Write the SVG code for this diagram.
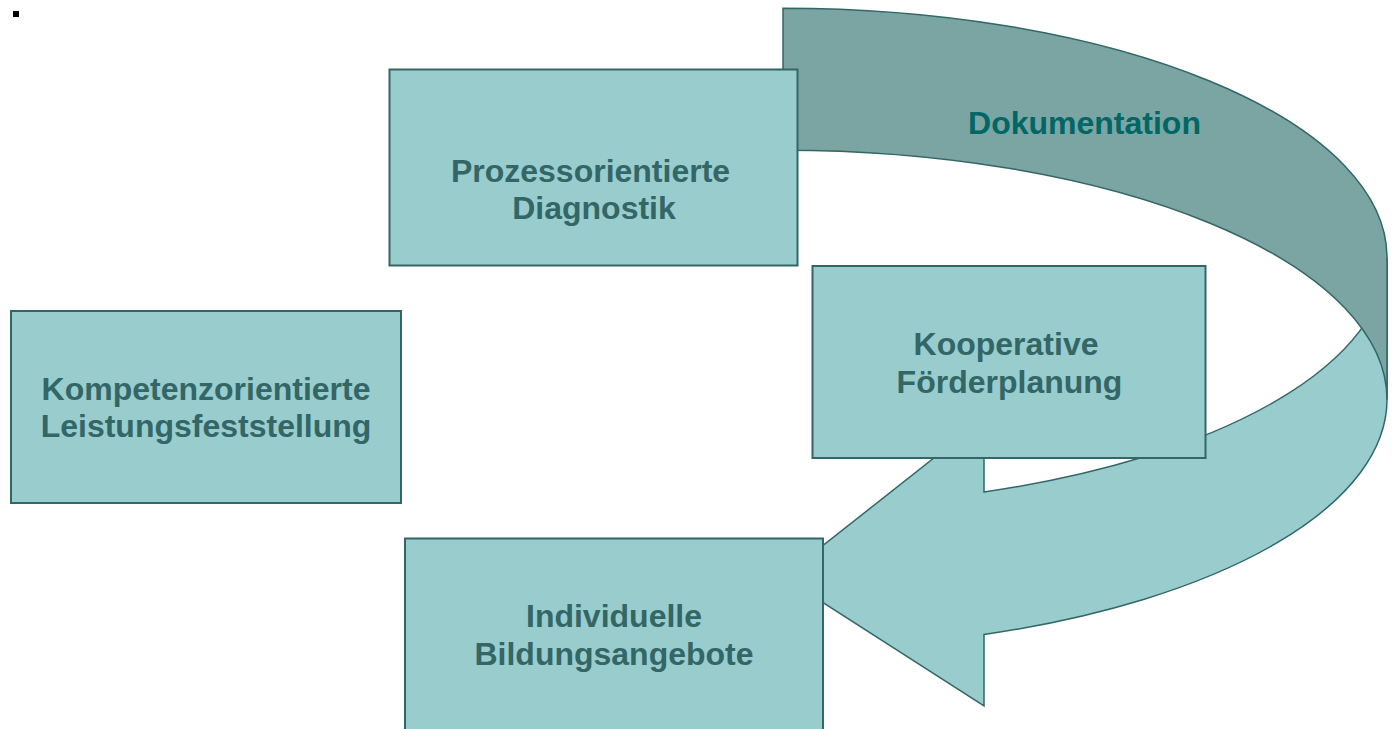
<svg xmlns="http://www.w3.org/2000/svg" width="1394" height="729" viewBox="0 0 1394 729">
  <style>
    .box { fill: #99CCCC; stroke: #336666; stroke-width: 2; }
    .band-front { fill: #99CCCC; stroke: #336666; stroke-width: 1.5; stroke-linejoin: miter; }
    .band-back { fill: #7AA5A3; stroke: #336666; stroke-width: 1.5; }
    .lbl { font-family: "Liberation Sans", Arial, sans-serif; font-weight: bold; font-size: 32px; fill: #336666; text-anchor: middle; }
    .doc { font-family: "Liberation Sans", Arial, sans-serif; font-weight: bold; font-size: 32px; fill: #006666; text-anchor: middle; }
  </style>
  <rect width="1394" height="729" fill="#FFFFFF"/>
  <rect x="13" y="11" width="6" height="6" fill="#000000"/>

  <g id="connectors">
    <g id="cycle-arrow">
      <path class="band-front" d="M 1387 257.5 A 604 249.3 0 0 1 984 492 L 984 418.5 L 783 577 L 984 706 L 984 634.5 A 604 249.3 0 0 0 1387 399.5 Z"/>
      <path class="band-back" d="M 783 8.2 A 604 249.3 0 0 1 1387 257.5 L 1387 399.5 A 604 249.3 0 0 0 783 150.2 Z"/>
      <text class="doc" x="1084.5" y="134">Dokumentation</text>
    </g>
  </g>

  <g id="node-prozess">
    <rect class="box" x="389.5" y="69.5" width="408" height="196"/>
    <text class="lbl" x="590.5" y="182">Prozessorientierte</text>
    <text class="lbl" x="594" y="219">Diagnostik</text>
  </g>

  <g id="node-kompetenz">
    <rect class="box" x="11" y="311" width="390" height="192"/>
    <text class="lbl" x="206" y="400">Kompetenzorientierte</text>
    <text class="lbl" x="206" y="437">Leistungsfeststellung</text>
  </g>

  <g id="node-kooperativ">
    <rect class="box" x="812.5" y="266" width="393" height="192"/>
    <text class="lbl" x="1006" y="355">Kooperative</text>
    <text class="lbl" x="1009.5" y="393">Förderplanung</text>
  </g>

  <g id="node-individuell">
    <rect class="box" x="405" y="538.5" width="418" height="200"/>
    <text class="lbl" x="614" y="627">Individuelle</text>
    <text class="lbl" x="614" y="665">Bildungsangebote</text>
  </g>
</svg>
